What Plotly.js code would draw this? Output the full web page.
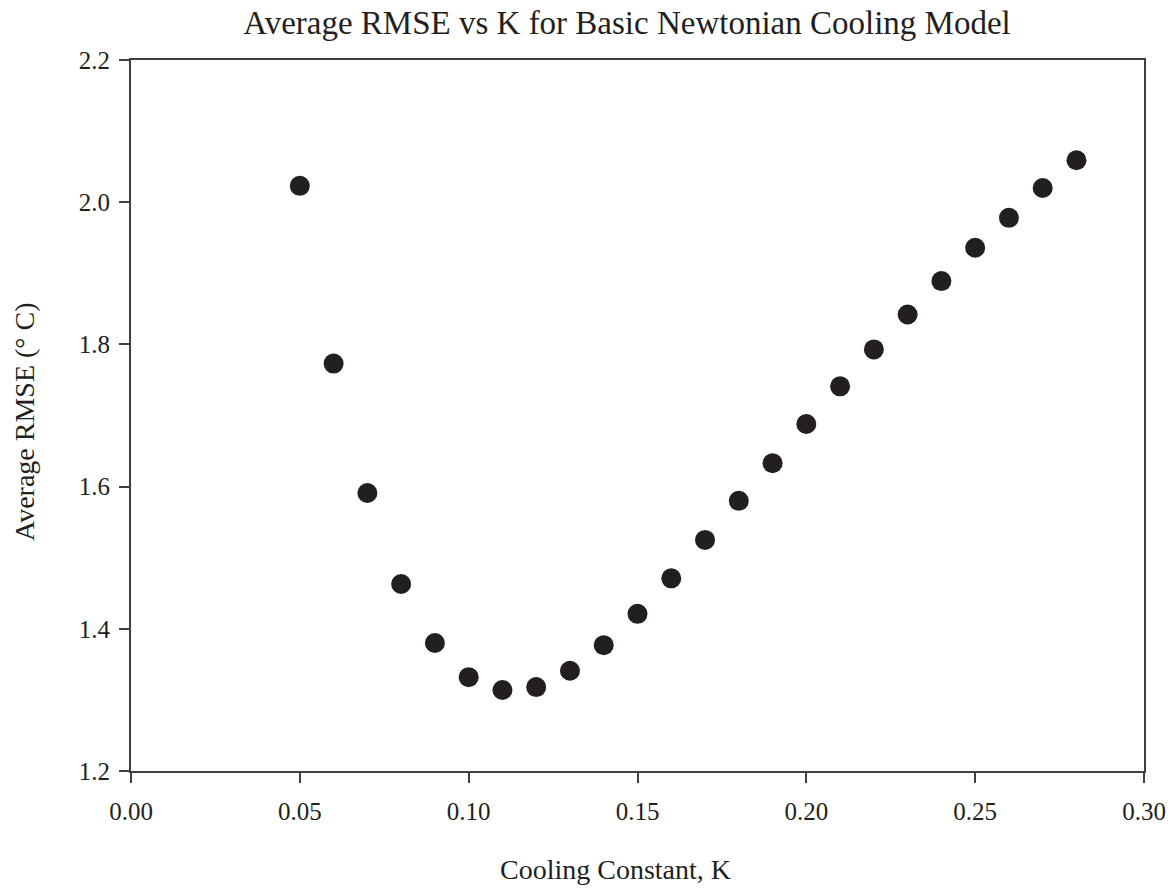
<!DOCTYPE html>
<html>
<head>
<meta charset="utf-8">
<script src="https://cdn.plot.ly/plotly-3.0.1.min.js"></script>
<style>html,body{margin:0;padding:0;background:#fff;}#chart{width:1172px;height:888px;}</style>
</head>
<body>
<div id="chart"></div>
<script>
const coolingK = [0.05,0.06,0.07,0.08,0.09,0.10,0.11,0.12,0.13,0.14,0.15,0.16,0.17,0.18,0.19,0.20,0.21,0.22,0.23,0.24,0.25,0.26,0.27,0.28];
const avgRMSE = [2.023,1.773,1.591,1.463,1.380,1.332,1.314,1.318,1.341,1.377,1.421,1.471,1.525,1.580,1.633,1.688,1.741,1.793,1.842,1.889,1.936,1.978,2.020,2.059];
const xTicks = [0.00,0.05,0.10,0.15,0.20,0.25,0.30];
const yTicks = [1.2,1.4,1.6,1.8,2.0,2.2];
const xTitle = 'Cooling Constant, K';
const yTitle = 'Average RMSE (° C)';

const font = 'Liberation Serif, Times New Roman, serif';
const ink = '#231f20';

Plotly.newPlot('chart', [{
  x: coolingK, y: avgRMSE, type: 'scatter', mode: 'markers',
  marker: {size: 20, color: ink}
}], {
  width: 1172, height: 888,
  margin: {l: 131, r: 28, t: 60, b: 117},
  paper_bgcolor: '#fff', plot_bgcolor: '#fff',
  showlegend: false,
  title: {text: 'Average RMSE vs K for Basic Newtonian Cooling Model', font: {family: font, size: 33, color: ink}, x: 0.535, xanchor: 'center', y: 0.975, yanchor: 'middle'},
  xaxis: {
    range: [0, 0.30], tickvals: xTicks, ticktext: xTicks.map(v => v.toFixed(2)),
    showgrid: false, zeroline: false, showline: true, mirror: true,
    linecolor: '#404040', linewidth: 2, ticks: 'outside', ticklen: 10, tickwidth: 2, tickcolor: '#404040',
    ticklabelstandoff: 7,
    tickfont: {family: font, size: 25, color: ink}
  },
  yaxis: {
    range: [1.2, 2.2], tickvals: yTicks, ticktext: yTicks.map(v => v.toFixed(1)),
    showgrid: false, zeroline: false, showline: true, mirror: true,
    linecolor: '#404040', linewidth: 2, ticks: 'outside', ticklen: 10, tickwidth: 2, tickcolor: '#404040',
    ticklabelstandoff: 4,
    tickfont: {family: font, size: 25, color: ink}
  },
  annotations: [
    {text: xTitle, xref: 'paper', yref: 'paper', x: 0.4778, y: -0.1392, xanchor: 'center', yanchor: 'middle', showarrow: false, font: {family: font, size: 28, color: ink}},
    {text: yTitle, xref: 'paper', yref: 'paper', x: -0.1046, y: 0.4909, xanchor: 'center', yanchor: 'middle', textangle: -90, showarrow: false, font: {family: font, size: 28, color: ink}}
  ]
}, {displayModeBar: false});
</script>
</body>
</html>
